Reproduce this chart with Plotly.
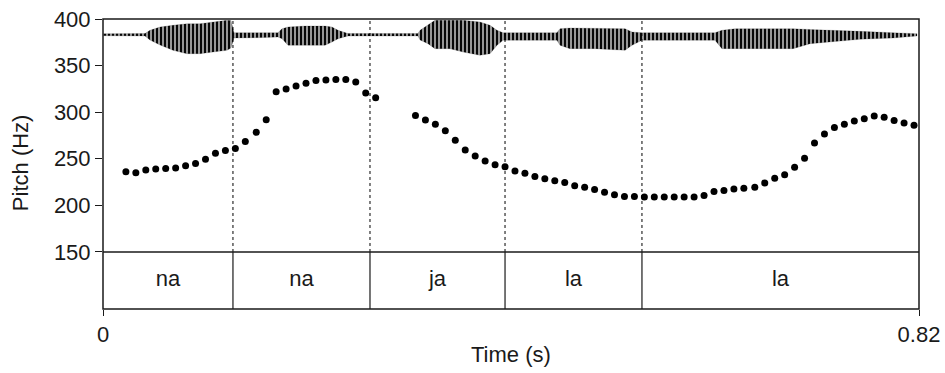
import plotly.graph_objects as go

# Pitch track (s, Hz), two voiced stretches
pitch_time = [
    0.023, 0.033, 0.043, 0.053, 0.063, 0.073, 0.083, 0.093, 0.103, 0.113,
    0.123, 0.133, 0.143, 0.154, 0.164, 0.174, 0.184, 0.194, 0.204, 0.214,
    0.224, 0.234, 0.244, 0.254, 0.264, 0.274,
    0.314, 0.324, 0.334, 0.344, 0.354, 0.364, 0.374, 0.384, 0.394, 0.404,
    0.414, 0.424, 0.434, 0.444, 0.454, 0.464, 0.474, 0.484, 0.494, 0.504,
    0.514, 0.524, 0.534, 0.544, 0.554, 0.564, 0.574, 0.584, 0.594, 0.604,
    0.614, 0.624, 0.634, 0.644, 0.655, 0.665, 0.675, 0.685, 0.695, 0.705,
    0.715, 0.725, 0.735, 0.745, 0.755, 0.765, 0.775, 0.785, 0.795, 0.805,
    0.815,
]
pitch_hz = [
    236, 235, 238, 239, 239.5, 240, 242.5, 245, 249.5, 256,
    259, 261, 268.5, 278.5, 292, 322, 325, 328, 331, 334,
    334.5, 335, 335, 332.5, 320.5, 315.5,
    296.5, 291.5, 287, 280, 270, 259.5, 253, 247.5, 243.5, 241.5,
    237, 234.5, 231, 228.5, 226.5, 224.5, 221, 219.5, 217, 214,
    211.5, 209.5, 209.5, 209, 209, 209, 209, 209, 209, 210.5,
    215, 216, 217.5, 218.5, 219.5, 224, 229, 233, 241, 250.5,
    267, 276.5, 283.5, 287, 290.5, 293, 296, 294.5, 291, 288.5,
    286,
]

# Waveform amplitude envelope (s, relative amplitude)
wave_time = [
    0.0, 0.0422, 0.0472, 0.0573, 0.0703, 0.0844, 0.0975, 0.1106, 0.1246, 0.1286,
    0.1316, 0.1628, 0.1758, 0.1799, 0.1859, 0.2030, 0.2231, 0.2301, 0.2362, 0.2462,
    0.3165, 0.3186, 0.3266, 0.3336, 0.3487, 0.3618, 0.3788, 0.3889, 0.3959, 0.4020,
    0.4562, 0.4592, 0.4693, 0.4944, 0.5246, 0.5316, 0.5416, 0.6150, 0.6220, 0.6351,
    0.6934, 0.7105, 0.7275, 0.7607, 0.7939, 0.8180,
]
wave_upper = [
    0.067, 0.08, 0.293, 0.513, 0.627, 0.733, 0.733, 0.847, 0.96, 0.947,
    0.133, 0.133, 0.133, 0.4, 0.513, 0.58, 0.58, 0.513, 0.293, 0.08,
    0.08, 0.293, 0.627, 0.96, 0.96, 0.96, 0.847, 0.627, 0.293, 0.133,
    0.133, 0.4, 0.447, 0.447, 0.4, 0.18, 0.133, 0.133, 0.293, 0.4,
    0.4, 0.347, 0.293, 0.227, 0.133, 0.067,
]
wave_lower = [
    -0.067, -0.087, -0.353, -0.687, -1.04, -1.267, -1.267, -1.153, -1.04, -0.887,
    -0.22, -0.187, -0.153, -0.267, -0.707, -0.707, -0.707, -0.487, -0.267, -0.087,
    -0.087, -0.353, -0.6, -0.933, -0.933, -1.153, -1.373, -1.267, -0.707, -0.373,
    -0.373, -0.707, -0.933, -0.933, -1.04, -0.707, -0.373, -0.373, -0.933, -0.933,
    -0.933, -0.6, -0.487, -0.307, -0.22, -0.087,
]

# Syllable tier
boundaries = [0.0, 0.1306, 0.2683, 0.4040, 0.5416, 0.82]
syllables = ["na", "na", "ja", "la", "la"]

y_ticks = [150, 200, 250, 300, 350, 400]
x_tick_vals = [0, 0.82]
x_tick_text = ["0", "0.82"]

FONT = "Liberation Sans, Arial, sans-serif"
INK = "#1a1a1a"
FS = 22
TIER_FRAC = 0.1966  # share of the plot height taken by the text tier

fig = go.Figure()

# Waveform drawn as a striped envelope on its own hidden amplitude axis
fig.add_trace(go.Scatter(
    x=wave_time + wave_time[::-1],
    y=wave_upper + wave_lower[::-1],
    mode="lines", fill="toself",
    fillcolor="rgba(0,0,0,0.45)",
    fillpattern=dict(shape="|", size=4, solidity=0.55,
                     fgcolor="rgba(0,0,0,0.95)", bgcolor="rgba(60,60,60,0.45)",
                     fillmode="replace"),
    line=dict(color="rgba(0,0,0,0.3)", width=0.5),
    xaxis="x", yaxis="y3", hoverinfo="skip", showlegend=False,
))

# Dotted boundary lines across the pitch panel
inner = boundaries[1:-1]
bx, by = [], []
for b in inner:
    bx += [b, b, None]
    by += [y_ticks[0], y_ticks[-1], None]
fig.add_trace(go.Scatter(
    x=bx, y=by, mode="lines",
    line=dict(color="black", width=1, dash="dot"),
    xaxis="x", yaxis="y", hoverinfo="skip", showlegend=False,
))

# Pitch points
fig.add_trace(go.Scatter(
    x=pitch_time, y=pitch_hz, mode="markers",
    marker=dict(color="black", size=7),
    xaxis="x", yaxis="y", showlegend=False,
))

# Solid boundary lines in the tier
tx, ty = [], []
for b in inner:
    tx += [b, b, None]
    ty += [0, 1, None]
fig.add_trace(go.Scatter(
    x=tx, y=ty, mode="lines",
    line=dict(color=INK, width=1.2),
    xaxis="x", yaxis="y2", hoverinfo="skip", showlegend=False,
))

# Syllable labels at interval midpoints
mids = [(boundaries[i] + boundaries[i + 1]) / 2 for i in range(len(syllables))]
fig.add_trace(go.Scatter(
    x=mids, y=[0.5] * len(syllables), mode="text", text=syllables,
    textfont=dict(family=FONT, size=FS, color=INK),
    textposition="middle center",
    xaxis="x", yaxis="y2", hoverinfo="skip", showlegend=False,
))

# Panel frame and the line between pitch panel and tier
shapes = [
    dict(type="rect", xref="paper", yref="paper", x0=0, x1=1, y0=0, y1=1,
         line=dict(color=INK, width=1.5)),
    dict(type="line", xref="paper", yref="paper", x0=0, x1=1,
         y0=TIER_FRAC, y1=TIER_FRAC, line=dict(color=INK, width=1.5)),
]

fig.update_layout(
    width=945, height=373,
    margin=dict(l=103, r=26, t=19, b=64, autoexpand=False),
    paper_bgcolor="white", plot_bgcolor="white",
    font=dict(family=FONT, size=FS, color=INK),
    shapes=shapes,
    xaxis=dict(
        domain=[0, 1], range=[0, 0.82], anchor="y2",
        tickvals=x_tick_vals, ticktext=x_tick_text,
        ticks="outside", ticklen=6, tickwidth=1.2, tickcolor=INK,
        tickfont=dict(family=FONT, size=FS, color=INK),
        showgrid=False, zeroline=False, showline=False, automargin=False,
    ),
    yaxis=dict(
        domain=[TIER_FRAC, 1], range=[150, 400], anchor="x",
        tickvals=y_ticks, ticks="outside", ticklen=7, tickwidth=1.2,
        tickcolor=INK, tickfont=dict(family=FONT, size=FS, color=INK),
        showgrid=False, zeroline=False, showline=False, automargin=False,
    ),
    yaxis2=dict(
        domain=[0, TIER_FRAC], range=[0, 1], anchor="x", visible=False,
    ),
    yaxis3=dict(
        overlaying="y", range=[-14.487, 1.047], anchor="x", visible=False,
    ),
    annotations=[
        dict(text="Pitch (Hz)", xref="paper", yref="paper",
             x=-0.1017, y=0.503, textangle=-90, showarrow=False,
             xanchor="center", yanchor="middle",
             font=dict(family=FONT, size=FS, color=INK)),
        dict(text="Time (s)", xref="paper", yref="paper",
             x=0.5, y=-0.1586, showarrow=False,
             xanchor="center", yanchor="middle",
             font=dict(family=FONT, size=FS, color=INK)),
    ],
)

fig.write_html("out.html")
